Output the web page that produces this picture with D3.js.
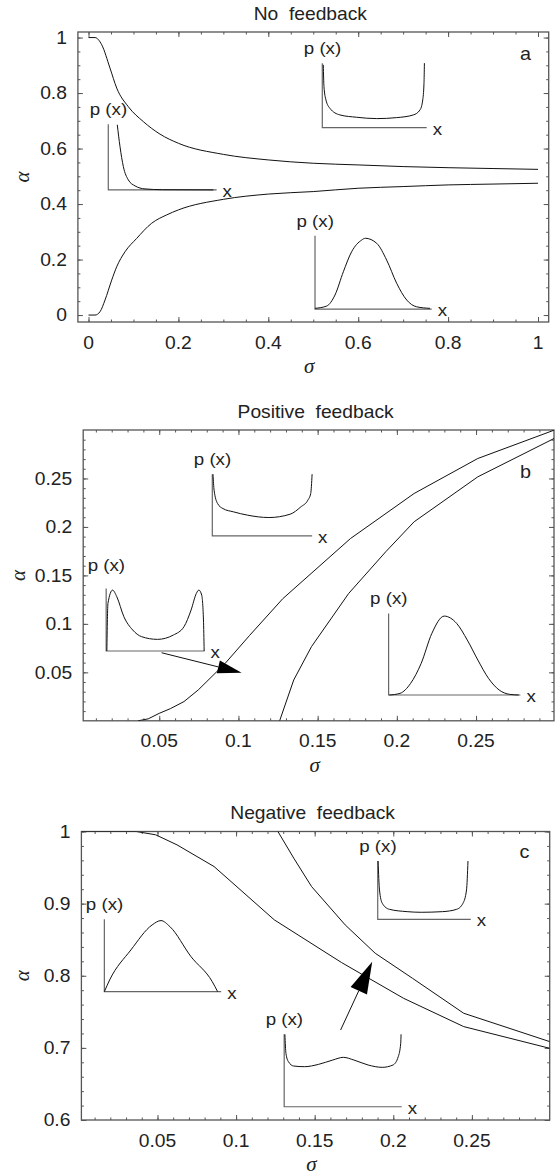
<!DOCTYPE html>
<html>
<head>
<meta charset="utf-8">
<script src="https://cdn.jsdelivr.net/npm/d3@7"></script>
<style>
  body { margin: 0; background: #fff; }
  text { font-family: "Liberation Sans", Arial, sans-serif; fill: #222; }
  .frame { fill: none; stroke: #555; stroke-width: 1.3; }
  .curve { fill: none; stroke: #111; stroke-width: 1; }
  .iaxis { fill: none; stroke: #666; stroke-width: 1.2; }
  .icurve { fill: none; stroke: #111; stroke-width: 1; }
  .tick line { stroke: #555; }
  .sym { font-family: "Liberation Serif", "DejaVu Serif", serif; font-style: italic; }
</style>
</head>
<body>
<svg width="555" height="1175"></svg>
<script>
const svg = d3.select('svg')
const STRETCH = 1.1

// ---- panel a: no feedback
const sigmaAUp = [0, 0.0145, 0.0294, 0.0478, 0.0627, 0.0885, 0.122, 0.159, 0.2, 0.3, 0.4, 0.5, 0.6, 0.7, 0.8, 0.9, 1]
const alphaAUp = [1, 1, 0.974, 0.89, 0.818, 0.751, 0.697, 0.652, 0.619, 0.579, 0.559, 0.547, 0.541, 0.535, 0.531, 0.528, 0.525]
const sigmaALow = [0, 0.0145, 0.0256, 0.0367, 0.0516, 0.0627, 0.0812, 0.107, 0.1406, 0.174, 0.2, 0.3, 0.4, 0.5, 0.6, 0.7, 0.8, 0.9, 1]
const alphaALow = [0, 0, 0.012, 0.054, 0.126, 0.174, 0.228, 0.276, 0.331, 0.361, 0.379, 0.417, 0.436, 0.445, 0.457, 0.463, 0.469, 0.472, 0.475]
const ticksAX = [0, 0.2, 0.4, 0.6, 0.8, 1]
const ticksAY = [0, 0.2, 0.4, 0.6, 0.8, 1]

// ---- panel b: positive feedback
const sigmaBUp = [0.0366, 0.043, 0.05, 0.057, 0.0656, 0.0746, 0.0915, 0.107, 0.128, 0.1707, 0.2109, 0.2511, 0.2992]
const alphaBUp = [0, 0.002, 0.0077, 0.0125, 0.0198, 0.0318, 0.059, 0.088, 0.126, 0.188, 0.2345, 0.2706, 0.2998]
const sigmaBLow = [0.126, 0.1349, 0.1461, 0.1696, 0.193, 0.2109, 0.2511, 0.2992]
const alphaBLow = [0, 0.0421, 0.0765, 0.1314, 0.1744, 0.2053, 0.2517, 0.2912]
const ticksBX = [0.05, 0.1, 0.15, 0.2, 0.25]
const ticksBY = [0.05, 0.1, 0.15, 0.2, 0.25]

// ---- panel c: negative feedback
const sigmaCA = [0.0016, 0.0173, 0.0365, 0.0489, 0.0624, 0.086, 0.1243, 0.1671, 0.2065, 0.2448, 0.2995]
const alphaCA = [1, 1, 1, 0.9954, 0.9815, 0.9514, 0.8775, 0.8183, 0.7688, 0.7295, 0.6994]
const sigmaCB = [0.1266, 0.1367, 0.148, 0.1694, 0.1885, 0.2122, 0.2448, 0.2995]
const alphaCB = [1, 0.963, 0.9237, 0.8705, 0.8312, 0.7965, 0.748, 0.7087]
const ticksCX = [0.05, 0.1, 0.15, 0.2, 0.25]
const ticksCY = [0.6, 0.7, 0.8, 0.9, 1]

// ---- inset shapes p(x), in unit coordinates of each inset
const decayU = [0.083, 0.108, 0.139, 0.185, 0.247, 0.339, 0.5, 0.97]
const decayV = [0.99, 0.66, 0.355, 0.152, 0.061, 0.015, 0.003, 0]
const uwideU = [0.0096, 0.016, 0.035, 0.073, 0.169, 0.329, 0.521, 0.712, 0.872, 0.936, 0.962, 0.974, 0.978]
const uwideV = [0.974, 0.637, 0.43, 0.3, 0.197, 0.161, 0.14, 0.155, 0.197, 0.275, 0.43, 0.689, 1]
const bellAU = [0, 0.1, 0.171, 0.243, 0.314, 0.4, 0.431, 0.529, 0.614, 0.7, 0.786, 0.871, 0.985]
const bellAV = [0.01, 0.041, 0.191, 0.509, 0.782, 0.941, 0.965, 0.896, 0.668, 0.351, 0.123, 0.031, 0.01]
const ubU = [0.007, 0.018, 0.053, 0.106, 0.213, 0.355, 0.567, 0.78, 0.887, 0.957, 0.986, 1]
const ubV = [1, 0.74, 0.524, 0.443, 0.389, 0.335, 0.297, 0.351, 0.47, 0.578, 0.686, 1]
const bimodU = [0.007, 0.018, 0.065, 0.108, 0.18, 0.27, 0.36, 0.522, 0.683, 0.791, 0.863, 0.917, 0.942, 0.971, 0.989, 0.996]
const bimodV = [0, 0.761, 0.973, 0.867, 0.548, 0.335, 0.229, 0.186, 0.255, 0.388, 0.654, 0.92, 0.973, 0.894, 0.495, 0]
const bellBU = [0.005, 0.086, 0.167, 0.247, 0.328, 0.422, 0.516, 0.597, 0.677, 0.758, 0.839, 0.919, 0.987]
const bellBV = [0, 0.02, 0.143, 0.388, 0.755, 0.967, 0.878, 0.673, 0.429, 0.204, 0.061, 0.008, 0]
const triU = [0, 0.045, 0.227, 0.409, 0.485, 0.561, 0.742, 0.924, 0.97]
const triV = [0, 0.161, 0.576, 0.922, 0.982, 0.899, 0.484, 0.138, 0]
const ucU = [0.004, 0.019, 0.049, 0.125, 0.316, 0.468, 0.696, 0.848, 0.916, 0.954, 0.97]
const ucV = [1, 0.503, 0.274, 0.171, 0.131, 0.12, 0.131, 0.171, 0.274, 0.503, 1]
const midU = [0.006, 0.015, 0.036, 0.081, 0.172, 0.292, 0.413, 0.503, 0.593, 0.714, 0.834, 0.925, 0.97, 0.991, 0.994]
const midV = [1, 0.737, 0.622, 0.562, 0.553, 0.585, 0.645, 0.682, 0.645, 0.576, 0.544, 0.576, 0.691, 0.876, 1]

const zip = (a, b) => a.map((d, i) => [d, b[i]])

function label (g, x, y, str, anchor, size) {
  return g.append('text')
    .attr('transform', `translate(${x},${y}) scale(${STRETCH},1)`)
    .attr('text-anchor', anchor)
    .style('font-size', size + 'px')
    .style('white-space', 'pre')
    .text(str)
}

function panel (p) {
  const g = svg.append('g')
  const x = d3.scaleLinear().domain(p.xDom).range([p.left, p.right])
  const y = d3.scaleLinear().domain(p.yDom).range([p.bottom, p.top])
  const clipId = 'clip-' + p.name
  g.append('clipPath').attr('id', clipId).append('rect')
    .attr('x', p.left).attr('y', p.top)
    .attr('width', p.right - p.left).attr('height', p.bottom - p.top)

  // frame ticks, pointing inward on every side
  const axes = [
    [d3.axisBottom, `translate(0,${p.bottom})`, x, p.xTicks, p.xMinor],
    [d3.axisTop, `translate(0,${p.top})`, x, p.xTicks, p.xMinor],
    [d3.axisLeft, `translate(${p.left},0)`, y, p.yTicks, p.yMinor],
    [d3.axisRight, `translate(${p.right},0)`, y, p.yTicks, p.yMinor]
  ]
  axes.forEach(([fn, tr, sc, major, minor]) => {
    g.append('g').attr('transform', tr)
      .call(fn(sc).tickValues(minor).tickSize(-2.5).tickFormat(''))
      .call(s => s.select('.domain').remove())
    g.append('g').attr('transform', tr)
      .call(fn(sc).tickValues(major).tickSize(-5).tickFormat(''))
      .call(s => s.select('.domain').remove())
  })

  p.xTicks.forEach(d => label(g, x(d), p.bottom + 26.5, String(d), 'middle', 17.5))
  p.yTicks.forEach(d => label(g, p.left - 11, y(d) + 6.3, String(d), 'end', 17.5))

  g.append('rect').attr('class', 'frame')
    .attr('x', p.left).attr('y', p.top)
    .attr('width', p.right - p.left).attr('height', p.bottom - p.top)

  const line = d3.line().x(d => x(d[0])).y(d => y(d[1])).curve(p.curve)
  p.series.forEach(s => {
    g.append('path').attr('class', 'curve').attr('clip-path', `url(#${clipId})`)
      .attr('d', line(s))
  })

  label(g, (p.left + p.right) / 2 - 3, p.top - 12.5, p.title, 'middle', 17.5)
  label(g, p.tag[0], p.tag[1], p.tagText, 'start', 18)

  g.append('text').attr('class', 'sym').style('font-size', '21px')
    .attr('text-anchor', 'middle')
    .attr('x', (p.left + p.right) / 2 - 4).attr('y', p.bottom + 51)
    .text('σ')
  g.append('text').attr('class', 'sym').style('font-size', '21px')
    .attr('text-anchor', 'middle')
    .attr('transform', `translate(${p.alphaX},${(p.top + p.bottom) / 2}) rotate(-90)`)
    .text('α')

  p.insets.forEach(ins => {
    const ix = d3.scaleLinear().domain([0, 1]).range([x(ins.box[0]), x(ins.box[1])])
    const iy = d3.scaleLinear().domain([0, 1]).range([y(ins.box[2]), y(ins.box[3])])
    g.append('path').attr('class', 'iaxis')
      .attr('d', d3.line()([[ix(0), iy(1)], [ix(0), iy(0)], [ix(1), iy(0)]]))
    g.append('path').attr('class', 'icurve')
      .attr('d', d3.line().x(d => ix(d[0])).y(d => iy(d[1])).curve(d3.curveMonotoneX)(zip(ins.u, ins.v)))
    label(g, ix(0) - 18.5, iy(1) - (ins.labelDy || 9), 'p (x)', 'start', 17)
    label(g, ix(1) + 6, iy(0) + 7, 'x', 'start', 17)
  })

  p.arrows.forEach(a => {
    const t0 = [x(a.tail[0]), y(a.tail[1])]
    const t1 = [x(a.tip[0]), y(a.tip[1])]
    const dx = t1[0] - t0[0]
    const dy = t1[1] - t0[1]
    const len = Math.hypot(dx, dy)
    const ux = dx / len
    const uy = dy / len
    const base = [t1[0] - ux * a.head, t1[1] - uy * a.head]
    g.append('path').attr('class', 'curve').attr('d', d3.line()([t0, base]))
    g.append('path').attr('fill', '#000')
      .attr('d', d3.line()([t1,
        [base[0] - uy * a.half, base[1] + ux * a.half],
        [base[0] + uy * a.half, base[1] - ux * a.half]]) + 'Z')
  })
}

panel({
  name: 'a', title: 'No  feedback', tagText: 'a', tag: [520, 60], alphaX: 28.5,
  left: 77.9, right: 548.7, top: 32, bottom: 322,
  xDom: [-0.0236, 1.0238], yDom: [-0.025, 1.02],
  xTicks: ticksAX, yTicks: ticksAY,
  xMinor: d3.range(0, 1.001, 0.05), yMinor: d3.range(0, 1.001, 0.05),
  curve: d3.curveMonotoneX,
  series: [zip(sigmaAUp, alphaAUp), zip(sigmaALow, alphaALow)],
  insets: [
    { box: [0.044, 0.285, 0.451, 0.688], u: decayU, v: decayV },
    { box: [0.5201, 0.7524, 0.6754, 0.9077], u: uwideU, v: uwideV },
    { box: [0.5039, 0.7635, 0.0216, 0.286], u: bellAU, v: bellAV }
  ],
  arrows: []
})

panel({
  name: 'b', title: 'Positive  feedback', tagText: 'b', tag: [520, 478.3], alphaX: 25,
  left: 83.2, right: 554, top: 430, bottom: 720.8,
  xDom: [0.002, 0.2992], yDom: [0, 0.3],
  xTicks: ticksBX, yTicks: ticksBY,
  xMinor: d3.range(0.01, 0.3, 0.01), yMinor: d3.range(0.01, 0.3, 0.01),
  curve: d3.curveLinear,
  series: [zip(sigmaBUp, alphaBUp), zip(sigmaBLow, alphaBLow)],
  insets: [
    { box: [0.0835, 0.1465, 0.1908, 0.2544], u: ubU, v: ubV },
    { box: [0.0165, 0.0786, 0.072, 0.1366], u: bimodU, v: bimodV, labelDy: 17 },
    { box: [0.1948, 0.278, 0.0266, 0.1108], u: bellBU, v: bellBV }
  ],
  arrows: [{ tail: [0.0515, 0.0702], tip: [0.102, 0.0496], head: 24, half: 6.5 }]
})

panel({
  name: 'c', title: 'Negative  feedback', tagText: 'c', tag: [519.6, 858.3], alphaX: 28.5,
  left: 81.4, right: 549.7, top: 831.5, bottom: 1120,
  xDom: [0.0016, 0.2995], yDom: [0.6, 1],
  xTicks: ticksCX, yTicks: ticksCY,
  xMinor: d3.range(0.01, 0.3, 0.01), yMinor: d3.range(0.6, 1.001, 0.02),
  curve: d3.curveLinear,
  series: [zip(sigmaCA, alphaCA), zip(sigmaCB, alphaCB)],
  insets: [
    { box: [0.0162, 0.0905, 0.7779, 0.8783], u: triU, v: triV },
    { box: [0.1901, 0.2493, 0.8783, 0.9591], u: ucU, v: ucV },
    { box: [0.1306, 0.2054, 0.6184, 0.7188], u: midU, v: midV }
  ],
  arrows: [{ tail: [0.1665, 0.7248], tip: [0.1866, 0.8195], head: 32, half: 9 }]
})
</script>
</body>
</html>
